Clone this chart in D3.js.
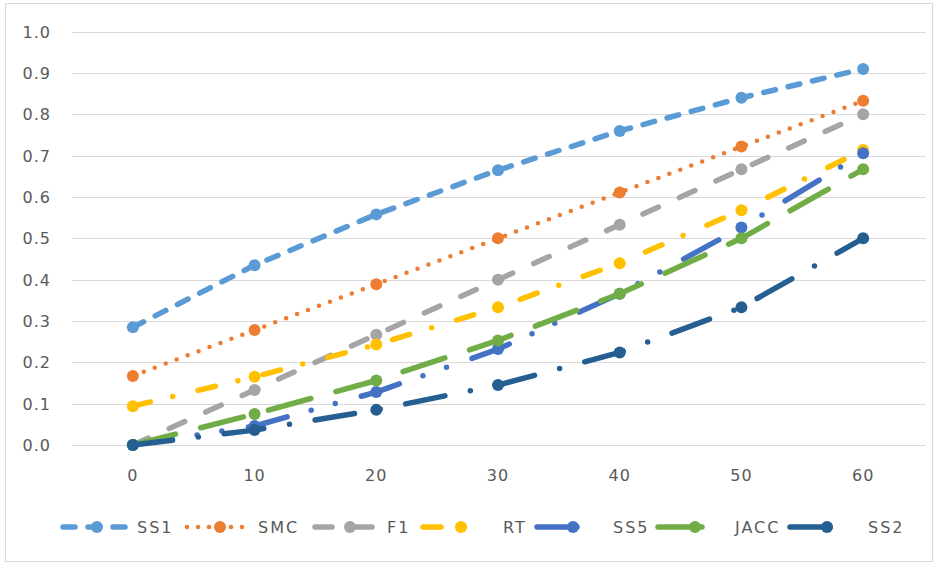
<!DOCTYPE html>
<html><head><meta charset="utf-8">
<script src="https://cdn.jsdelivr.net/npm/d3@7"></script>
<style>body{margin:0;background:#fff}svg{display:block}</style>
</head><body>
<svg id="c" width="939" height="565"></svg>
<script>
const categories = [0, 10, 20, 30, 40, 50, 60];
const yTicks = [0, 0.1, 0.2, 0.3, 0.4, 0.5, 0.6, 0.7, 0.8, 0.9, 1.0];
const seriesNames = ["SS1", "SMC", "F1", "RT", "SS5", "JACC", "SS2"];
const SS1  = [0.285, 0.435, 0.558, 0.665, 0.760, 0.840, 0.910];
const SMC  = [0.167, 0.278, 0.389, 0.500, 0.611, 0.722, 0.833];
const F1   = [0.000, 0.133, 0.267, 0.400, 0.533, 0.667, 0.800];
const RT   = [0.094, 0.165, 0.243, 0.333, 0.440, 0.568, 0.714];
const SS5  = [0.000, 0.046, 0.128, 0.232, 0.366, 0.526, 0.706];
const JACC = [0.000, 0.075, 0.156, 0.253, 0.366, 0.500, 0.667];
const SS2  = [0.000, 0.036, 0.085, 0.145, 0.224, 0.333, 0.500];
const seriesValues = [SS1, SMC, F1, RT, SS5, JACC, SS2];

// styles
const colors = ["#5b9bd5", "#ed7d31", "#a5a5a5", "#ffc000", "#4472c4", "#70ad47", "#255e91"];
const dashes = ["12 13", "0 11.7", "17 23", "18 23 0 26", "40 25 0 25 0 27", "44 26", "40 26 0 26"];
const widths = [5.5, 4.5, 5.5, 5.5, 5.5, 5.5, 5.5];
// legend layout: [lineStart, lineEnd, markerX, textX]
const legendLayout = [
  [63, 128, 97, 137], [187, 253, 220, 258], [315, 380, 350, 387], [423, 477, 461, 503],
  [537, 587, 573, 613], [658, 708, 695, 735], [790, 842, 827, 868]
];

const svg = d3.select("#c");
const font = "DejaVu Sans, sans-serif";

svg.append("rect").attr("x", 5.5).attr("y", 3.5).attr("width", 927).attr("height", 558)
  .attr("fill", "#fff").attr("stroke", "#d9d9d9");

const x = d3.scaleBand().domain(categories).range([72, 924]);
const y = d3.scaleLinear().domain([0, 1]).range([445, 31.7]);
const cx = d => x(d) + x.bandwidth() / 2;

// gridlines
svg.append("g").selectAll("line").data(yTicks).join("line")
  .attr("x1", 72).attr("x2", 926)
  .attr("y1", d => Math.round(y(d)) + 0.5).attr("y2", d => Math.round(y(d)) + 0.5)
  .attr("stroke", "#d9d9d9").attr("stroke-width", 1);

// y axis labels
const yAxis = d3.axisLeft(y).tickValues(yTicks).tickFormat(d3.format(".1f")).tickSize(0).tickPadding(0);
const gy = svg.append("g").attr("transform", "translate(51,0)").call(yAxis);
gy.select(".domain").remove();
gy.selectAll("text").attr("font-family", font).attr("font-size", 16).attr("fill", "#595959")
  .attr("letter-spacing", "1px").attr("dy", "0.35em");

// x axis labels
const xAxis = d3.axisBottom(x).tickSize(0).tickPadding(0);
const gx = svg.append("g").attr("transform", "translate(0,475)").call(xAxis);
gx.select(".domain").remove();
gx.selectAll("text").attr("font-family", font).attr("font-size", 16).attr("fill", "#595959")
  .attr("letter-spacing", "1px").attr("dy", "0.35em");

const line = d3.line().x((d, i) => cx(categories[i])).y(d => y(d));

seriesValues.forEach((vals, s) => {
  const g = svg.append("g");
  g.append("path").datum(vals).attr("d", line)
    .attr("fill", "none").attr("stroke", colors[s]).attr("stroke-width", widths[s])
    .attr("stroke-dasharray", dashes[s]).attr("stroke-linecap", "round").attr("stroke-linejoin", "round");
  g.selectAll("circle").data(vals).join("circle")
    .attr("cx", (d, i) => cx(categories[i])).attr("cy", d => y(d)).attr("r", 6)
    .attr("fill", colors[s]);
});

// legend
const ly = 527;
const lg = svg.append("g");
seriesNames.forEach((name, s) => {
  const L = legendLayout[s];
  lg.append("line").attr("x1", L[0]).attr("x2", L[1]).attr("y1", ly).attr("y2", ly)
    .attr("stroke", colors[s]).attr("stroke-width", widths[s])
    .attr("stroke-dasharray", s === 1 ? "0 11" : (s === 0 ? "12 13" : dashes[s]))
    .attr("stroke-linecap", "round");
  lg.append("circle").attr("cx", L[2]).attr("cy", ly).attr("r", 6).attr("fill", colors[s]);
  lg.append("text").attr("x", L[3]).attr("y", ly).attr("dy", "0.35em")
    .attr("font-family", font).attr("font-size", 16).attr("fill", "#595959")
    .attr("letter-spacing", "2px").text(name);
});
</script>
</body></html>
